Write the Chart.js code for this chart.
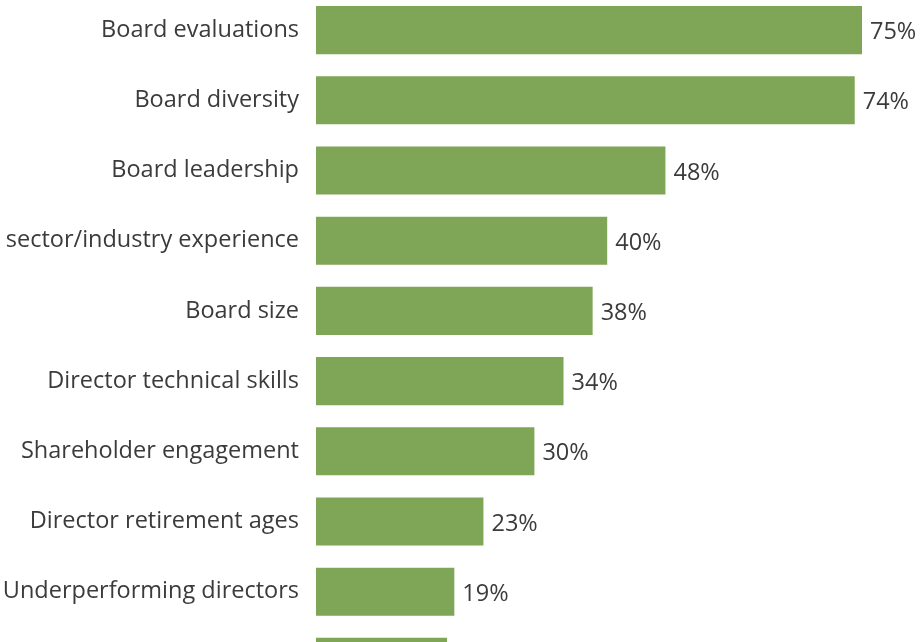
<!DOCTYPE html>
<html>
<head>
<meta charset="utf-8">
<script src="https://cdn.jsdelivr.net/npm/chart.js@4.4.1/dist/chart.umd.min.js"></script>
<style>
  html, body { margin: 0; padding: 0; background: #fff; overflow: hidden; width: 921px; height: 642px; }
  #wrap { position: absolute; left: -100px; top: -5px; }
</style>
</head>
<body>
<div id="wrap"><canvas id="chart" width="1160" height="702"></canvas></div>
<script>
const topics = [
    "Board evaluations",
    "Board diversity",
    "Board leadership",
    "Relevant sector/industry experience",
    "Board size",
    "Director technical skills",
    "Shareholder engagement",
    "Director retirement ages",
    "Underperforming directors",
    "Director tenure"
];
const shares = [75, 74, 48, 40, 38, 34, 30, 23, 19, 18];

const barColor = "#7fa656";
const textColor = "#3b3b3b";
const fontFamily = "'Open Sans', 'Noto Sans', sans-serif";

// percentage text just past the end of each bar
const valueLabels = {
    id: "valueLabels",
    afterDatasetsDraw(chart) {
        const ctx = chart.ctx;
        const meta = chart.getDatasetMeta(0);
        ctx.save();
        ctx.font = "23.5px " + fontFamily;
        ctx.fillStyle = textColor;
        ctx.textAlign = "left";
        ctx.textBaseline = "middle";
        meta.data.forEach((bar, i) => {
            ctx.fillText(shares[i] + "%", bar.x + 8, bar.y + 2.5);
        });
        ctx.restore();
    }
};

new Chart(document.getElementById("chart"), {
    type: "bar",
    data: {
        labels: topics,
        datasets: [{
            data: shares,
            backgroundColor: barColor,
            borderWidth: 0,
            categoryPercentage: 1,
            barPercentage: 0.685
        }]
    },
    options: {
        indexAxis: "y",
        responsive: false,
        animation: false,
        devicePixelRatio: 1,
        layout: { padding: { left: 0, top: 0, bottom: 0, right: 16 } },
        plugins: {
            legend: { display: false },
            tooltip: { enabled: false }
        },
        scales: {
            x: {
                display: false,
                min: 0,
                max: 100
            },
            y: {
                afterFit(scale) {
                    scale.width = 416;
                    scale.paddingTop = 0;
                    scale.paddingBottom = 0;
                },
                grid: { display: false, drawTicks: false },
                border: { display: false },
                ticks: {
                    padding: 17,
                    color: textColor,
                    font: { family: fontFamily, size: 23.5 }
                }
            }
        }
    },
    plugins: [valueLabels]
});
</script>
</body>
</html>
